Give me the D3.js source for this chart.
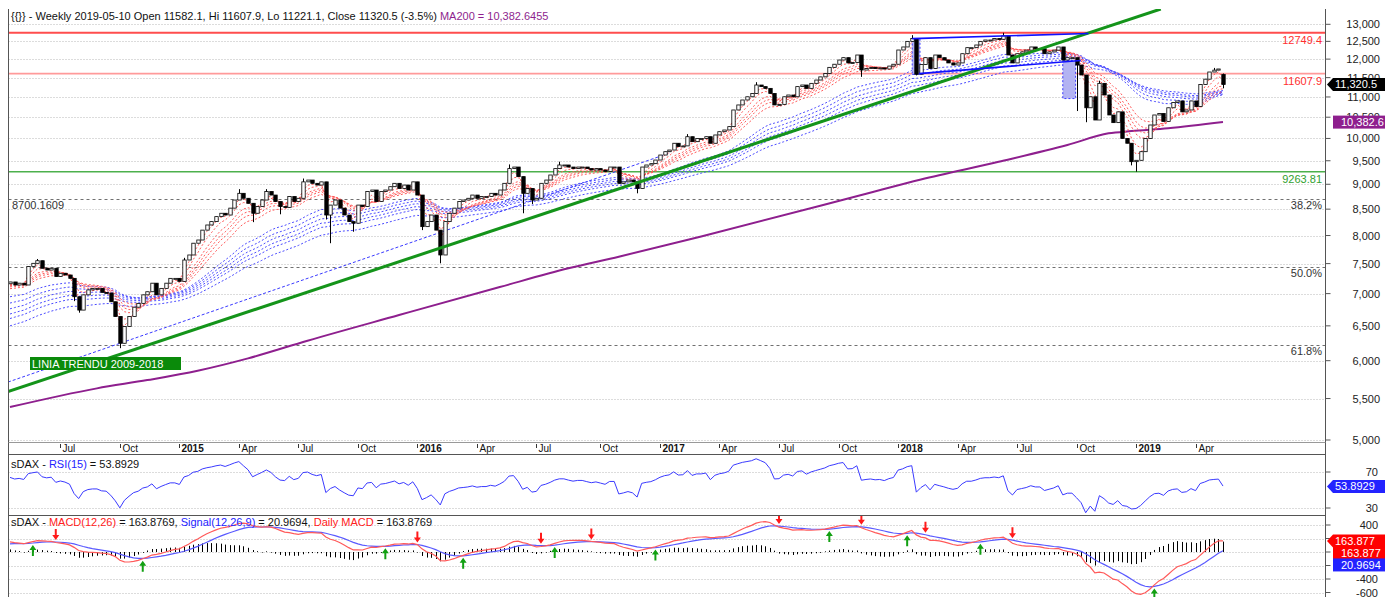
<!DOCTYPE html>
<html>
<head>
<meta charset="utf-8">
<script src="https://cdn.jsdelivr.net/npm/d3@7"></script>
<style>
body { margin: 0; background: #fff; }
svg text { font-family: "Liberation Sans", Arial, sans-serif; }
</style>
</head>
<body>
<svg id="chart" width="1385" height="597"></svg>
<script>
// weekly sDAX closes (first bar = week of 2014-04-11)
const startDate = new Date(2014, 3, 11);
const firstOpen = 7160;
const closes = [
  7190, 7140, 7170, 7140, 7450, 7505, 7550, 7420, 7390, 7420,
  7280, 7335, 7306, 7250, 6950, 6740, 6980, 7060, 7085, 7085,
  7020, 7010, 6870, 6640, 6245, 6490, 6640, 6785, 6845, 6980,
  7030, 7170, 6980, 7085, 7170, 7250, 7250, 7200, 7562, 7650,
  7860, 7918, 8100, 8196, 8260, 8355, 8420, 8386, 8520, 8680,
  8815, 8715, 8615, 8420, 8550, 8680, 8850, 8780, 8650, 8550,
  8535, 8750, 8650, 8715, 9050, 9088, 9020, 8984, 9050, 8386,
  8580, 8680, 8520, 8386, 8260, 8230, 8580, 8550, 8850, 8882,
  8650, 8850, 8882, 8950, 9020, 8915, 8984, 8882, 9050, 8780,
  8165, 8260, 8386, 8100, 7650, 8260, 8420, 8520, 8650, 8680,
  8715, 8780, 8715, 8750, 8750, 8815, 8780, 8882, 9020, 9330,
  9364, 9160, 8815, 8915, 8680, 8715, 9020, 9088, 9194, 9330,
  9408, 9408, 9364, 9330, 9364, 9364, 9330, 9300, 9330, 9300,
  9270, 9364, 9364, 9020, 9050, 9088, 9050, 8915, 9364, 9408,
  9437, 9516, 9626, 9700, 9737, 9890, 9815, 9830, 10040, 9926,
  10000, 10000, 10040, 9890, 10080, 10156, 10196, 10275, 10676, 10800,
  10924, 11005, 11090, 11307, 11265, 11220, 11090, 10800, 10815, 11005,
  11050, 11005, 11265, 11307, 11220, 11350, 11437, 11520, 11608, 11775,
  11860, 11975, 12040, 11895, 11910, 12114, 11703, 11745, 11770, 11745,
  11760, 11730, 11810, 11860, 12254, 12340, 12500, 12580, 11590, 11850,
  12040, 11745, 12114, 12040, 11975, 11895, 11838, 11895, 12150, 12320,
  12320, 12396, 12500, 12539, 12539, 12580, 12560, 12660, 12114, 11895,
  12150, 12200, 12250, 12340, 12290, 12290, 12150, 12200, 12250, 12340,
  11975, 12040, 12040, 11838, 11570, 10730, 11005, 10433, 11350, 11050,
  10554, 10370, 10630, 10000, 9890, 9480, 9510, 9700, 10000, 10314,
  10554, 10590, 10400, 10730, 10860, 10900, 10630, 10676, 10900, 10760,
  11320, 11460, 11650, 11700, 11731, 11320.5
];
// opens that differ from the previous close
const openGaps = [[265, 11582.1]];
// wick extremes [week index, value]
const highWicks = [[6, 7580], [38, 7600], [50, 8900], [56, 8900], [64, 9120], [109, 9420], [120, 9480],
  [148, 10100], [163, 11380], [197, 12680], [217, 12749.4], [238, 11420], [263, 11760], [265, 11607.9]];
const lowWicks = [[14, 6880], [15, 6700], [24, 6175], [53, 8250], [59, 8400], [69, 8300], [70, 7860],
  [75, 8070], [90, 8100], [94, 7505], [112, 8420], [114, 8600], [137, 8815], [186, 11520],
  [198, 11560], [233, 10650], [235, 10380], [245, 9400], [246, 9263.81], [265, 11221.1]];

// MA200 [week index, value]
const ma200Points = [[0, 5393], [19, 5630], [30, 5738], [41, 5863], [52, 6032], [65, 6282], [85, 6664],
  [107, 7107], [122, 7419], [133, 7620], [151, 7983], [186, 8780], [199, 9099], [216, 9478],
  [231, 9850], [240, 10118], [245, 10170], [253, 10235], [265, 10382.6455]];

// ribbon periods and their values at the first bar
const shortPeriods = [3, 5, 8, 10, 12, 15];
const shortSeeds = [7180, 7170, 7150, 7130, 7110, 7080];
const longPeriods = [30, 35, 40, 45, 50, 60];
const longSeeds = [6950, 6850, 6760, 6680, 6610, 6500];

// horizontal levels
const levelValues = [12749.4, 11607.9, 9263.81];
const levelLabels = ["12749.4", "11607.9", "9263.81"];
const fibValues = [8700.1609, 7441, 6220];
const fibLabels = ["38.2%", "50.0%", "61.8%"];

// drawn lines [week index, value]
const trendLine = [[-0.44, 5590], [251.4, 13465]];
const channelLine = [[-0.44, 5712], [144.1, 9671]];
const triangleTop = [[197.1, 12580], [235.6, 12726]];
const triangleBottom = [[198.6, 11606], [233.9, 11963]];
const boxLeft = [[197.1, 12580], [198.8, 11590]];
const boxRight = [[230, 11960], [232.8, 10960]];

// indicator seeds and last values
const rsiPeriod = 15, rsiSeedGain = 80, rsiSeedLoss = 45;
const macdFast = 12, macdSlow = 26, macdSig = 9;
const macdSeedFast = 7130, macdSeedSlow = 6980, macdSeedSignal = 120;
const rsiLast = 53.8929, macdLast = 163.8769, signalLast = 20.9694, ma200Last = 10382.6455;
const sellArrows = [10, 89, 116, 127, 168, 186, 200, 219];
const buyArrows = [5, 29, 82, 99, 119, 141, 179, 196, 212, 250];

const mainTicks = d3.range(5000, 13001, 500);
const rsiTicks = [70, 30];
const macdTicks = [400, 200, 0, -200, -400, -600];
const macdLabels = [400, -400, -600];

// ---------- derived series ----------
const n = closes.length;
const opens = closes.map((c, i) => i == 0 ? firstOpen : closes[i - 1]);
openGaps.forEach(d => opens[d[0]] = d[1]);
const highs = closes.map((c, i) => Math.max(c, opens[i]));
const lows = closes.map((c, i) => Math.min(c, opens[i]));
highWicks.forEach(d => highs[d[0]] = Math.max(highs[d[0]], d[1]));
lowWicks.forEach(d => lows[d[0]] = Math.min(lows[d[0]], d[1]));
const dates = closes.map((c, i) => d3.timeDay.offset(startDate, 7 * i));

function ema(values, period, seed) {
  const a = 2 / (period + 1);
  let e = seed;
  return values.map((v, i) => {
    if (i > 0) e = e + a * (v - e);
    return e;
  });
}

function rsi(values, period, g0, l0) {
  let ag = g0, al = l0;
  return values.map((v, i) => {
    if (i > 0) {
      const ch = v - values[i - 1];
      ag = (ag * (period - 1) + Math.max(ch, 0)) / period;
      al = (al * (period - 1) + Math.max(-ch, 0)) / period;
    }
    return 100 - 100 / (1 + ag / al);
  });
}

const shortEmas = shortPeriods.map((p, k) => ema(closes, p, shortSeeds[k]));
const longEmas = longPeriods.map((p, k) => ema(closes, p, longSeeds[k]));
const rsiVals = rsi(closes, rsiPeriod, rsiSeedGain, rsiSeedLoss);
const eFast = ema(closes, macdFast, macdSeedFast);
const eSlow = ema(closes, macdSlow, macdSeedSlow);
const macd = eFast.map((v, i) => v - eSlow[i]);
const signal = ema(macd, macdSig, macdSeedSignal);

// ---------- layout ----------
const svg = d3.select("#chart");
const plotL = 8.5, plotR = 1325.5;
const mainTop = 9, mainBot = 442;
const rsiTop = 455, rsiBot = 515;
const macdTop = 516, macdBot = 597;
const labelEnd = 1380;

const x = d3.scaleLinear().domain([0, n - 1]).range([10, 1223]);
const step = x(1) - x(0);
const y = d3.scaleLog().domain([5000, 13000]).range([440, 24.3]);
const yr = d3.scaleLinear().domain([30, 70]).range([508, 472]);
const ym = d3.scaleLinear().domain([-400, 400]).range([579, 525]);

const defs = svg.append("defs");
defs.append("clipPath").attr("id", "clipMain").append("rect")
  .attr("x", plotL).attr("y", mainTop).attr("width", plotR - plotL).attr("height", mainBot - mainTop);
defs.append("clipPath").attr("id", "clipRsi").append("rect")
  .attr("x", plotL).attr("y", rsiTop).attr("width", plotR - plotL).attr("height", rsiBot - rsiTop);
defs.append("clipPath").attr("id", "clipMacd").append("rect")
  .attr("x", plotL).attr("y", macdTop).attr("width", plotR - plotL).attr("height", macdBot - macdTop);

const gMain = svg.append("g").attr("clip-path", "url(#clipMain)");
const gRsi = svg.append("g").attr("clip-path", "url(#clipRsi)");
const gMacd = svg.append("g").attr("clip-path", "url(#clipMacd)");

// grids
gMain.selectAll(".grid").data(mainTicks).join("line")
  .attr("x1", plotL).attr("x2", plotR)
  .attr("y1", d => Math.round(y(d)) + 0.5).attr("y2", d => Math.round(y(d)) + 0.5)
  .attr("stroke", "#b8b8b8").attr("stroke-dasharray", "1,2");
gRsi.selectAll(".grid").data(rsiTicks).join("line")
  .attr("x1", plotL).attr("x2", plotR)
  .attr("y1", d => Math.round(yr(d)) + 0.5).attr("y2", d => Math.round(yr(d)) + 0.5)
  .attr("stroke", "#b8b8b8").attr("stroke-dasharray", "1,2");
gMacd.selectAll(".grid").data(macdTicks).join("line")
  .attr("x1", plotL).attr("x2", plotR)
  .attr("y1", d => Math.round(ym(d)) + 0.5).attr("y2", d => Math.round(ym(d)) + 0.5)
  .attr("stroke", "#b8b8b8").attr("stroke-dasharray", "1,2");

// fibonacci levels
gMain.selectAll(".fib").data(fibValues).join("line")
  .attr("x1", plotL).attr("x2", plotR)
  .attr("y1", d => Math.round(y(d)) + 0.5).attr("y2", d => Math.round(y(d)) + 0.5)
  .attr("stroke", "#707070").attr("stroke-width", 1.2).attr("stroke-dasharray", "3,3");
svg.selectAll(".fibLabel").data(fibValues).join("text")
  .attr("x", 1322).attr("y", d => y(d) + 10).attr("text-anchor", "end")
  .attr("font-size", 11).attr("fill", "#333").text((d, i) => fibLabels[i]);
svg.append("text").attr("x", 12).attr("y", y(fibValues[0]) + 10)
  .attr("font-size", 11).attr("fill", "#333").text(fibValues[0].toFixed(4));

// horizontal levels
const levelColors = ["#ff4d4d", "#ff9a9a", "#4cb04c"];
const levelText = ["#ff3030", "#ff3030", "#30a030"];
const levelWidth = [2, 1.6, 1.6];
gMain.selectAll(".lvl").data(levelValues).join("line")
  .attr("x1", plotL).attr("x2", plotR)
  .attr("y1", d => y(d)).attr("y2", d => y(d))
  .attr("stroke", (d, i) => levelColors[i]).attr("stroke-width", (d, i) => levelWidth[i]);
svg.selectAll(".lvlLabel").data(levelValues).join("text")
  .attr("x", 1322).attr("y", d => y(d) + 11).attr("text-anchor", "end")
  .attr("font-size", 11).attr("fill", (d, i) => levelText[i]).text((d, i) => levelLabels[i]);

// MA200
gMain.append("path").datum(ma200Points)
  .attr("d", d3.line().x(d => x(d[0])).y(d => y(d[1])).curve(d3.curveMonotoneX))
  .attr("fill", "none").attr("stroke", "#8e1f8e").attr("stroke-width", 2);

// ribbons
const ribbonLine = d3.line().x((d, i) => x(i)).y(d => y(d));
longEmas.forEach(s => gMain.append("path").datum(s).attr("d", ribbonLine)
  .attr("fill", "none").attr("stroke", "#4a4aff").attr("stroke-width", 1).attr("stroke-dasharray", "2,2"));
shortEmas.forEach(s => gMain.append("path").datum(s).attr("d", ribbonLine)
  .attr("fill", "none").attr("stroke", "#ff5a5a").attr("stroke-width", 1).attr("stroke-dasharray", "2,2"));

// channel line
const segLine = d3.line().x(d => x(d[0])).y(d => y(d[1]));
gMain.append("path").datum(channelLine).attr("d", segLine)
  .attr("fill", "none").attr("stroke", "#3a3aff").attr("stroke-width", 1).attr("stroke-dasharray", "3,2");

// triangle boxes
[boxLeft, boxRight].forEach(b => {
  gMain.append("rect")
    .attr("x", x(b[0][0])).attr("y", y(b[0][1]))
    .attr("width", x(b[1][0]) - x(b[0][0])).attr("height", y(b[1][1]) - y(b[0][1]))
    .attr("fill", "#b3b3f2").attr("stroke", "#3a3aff").attr("stroke-dasharray", "2,2");
});

// candles
const candles = gMain.append("g");
const bw = 3.4;
candles.selectAll("line").data(closes).join("line")
  .attr("x1", (d, i) => Math.round(x(i)) + 0.5).attr("x2", (d, i) => Math.round(x(i)) + 0.5)
  .attr("y1", (d, i) => y(highs[i])).attr("y2", (d, i) => y(lows[i]))
  .attr("stroke", "#000").attr("stroke-width", 1);
candles.selectAll("rect").data(closes).join("rect")
  .attr("x", (d, i) => Math.round(x(i)) + 0.5 - bw / 2)
  .attr("y", (d, i) => y(Math.max(d, opens[i])))
  .attr("width", bw)
  .attr("height", (d, i) => Math.max(1, y(Math.min(d, opens[i])) - y(Math.max(d, opens[i]))))
  .attr("fill", (d, i) => d >= opens[i] ? "#fff" : "#000")
  .attr("stroke", "#000").attr("stroke-width", 0.8);

// trend line and triangle
gMain.append("path").datum(trendLine).attr("d", segLine)
  .attr("fill", "none").attr("stroke", "#14941a").attr("stroke-width", 3);
[triangleTop, triangleBottom].forEach(t => gMain.append("path").datum(t).attr("d", segLine)
  .attr("fill", "none").attr("stroke", "#1010ff").attr("stroke-width", 1.6));

const tl = svg.append("g");
tl.append("rect").attr("x", 30).attr("y", 357).attr("width", 151).attr("height", 13).attr("fill", "#0a8a0a");
tl.append("text").attr("x", 32).attr("y", 367.5).attr("font-size", 11).attr("fill", "#fff")
  .text("LINIA TRENDU 2009-2018");

// RSI
gRsi.append("path").datum(rsiVals)
  .attr("d", d3.line().x((d, i) => x(i)).y(d => yr(d)))
  .attr("fill", "none").attr("stroke", "#3a3aff").attr("stroke-width", 1);

// MACD
const hist = macd.map((v, i) => v - signal[i]);
gMacd.selectAll(".hist").data(hist).join("line")
  .attr("x1", (d, i) => Math.round(x(i)) + 0.5).attr("x2", (d, i) => Math.round(x(i)) + 0.5)
  .attr("y1", ym(0)).attr("y2", d => ym(d) + (d >= 0 ? -0.5 : 0.5))
  .attr("stroke", "#000").attr("stroke-width", 1);
gMacd.append("path").datum(signal)
  .attr("d", d3.line().x((d, i) => x(i)).y(d => ym(d)))
  .attr("fill", "none").attr("stroke", "#5a5aff").attr("stroke-width", 1.2);
gMacd.append("path").datum(macd)
  .attr("d", d3.line().x((d, i) => x(i)).y(d => ym(d)))
  .attr("fill", "none").attr("stroke", "#ff5a5a").attr("stroke-width", 1.2);

function arrow(g, cx, tipY, dir, color) {
  // dir -1 = pointing down (tip below), 1 = pointing up
  const s = dir;
  const p = d3.path();
  p.moveTo(cx, tipY);
  p.lineTo(cx - 3.5, tipY + s * 5);
  p.lineTo(cx - 1, tipY + s * 5);
  p.lineTo(cx - 1, tipY + s * 11);
  p.lineTo(cx + 1, tipY + s * 11);
  p.lineTo(cx + 1, tipY + s * 5);
  p.lineTo(cx + 3.5, tipY + s * 5);
  p.closePath();
  g.append("path").attr("d", p.toString()).attr("fill", color);
}
sellArrows.forEach(i => arrow(gMacd, x(i), Math.min(ym(macd[i]), ym(signal[i])) - 2, -1, "#ff1a1a"));
buyArrows.forEach(i => arrow(gMacd, x(i), Math.max(ym(macd[i]), ym(signal[i])) + 2, 1, "#12a012"));

// frames
const frame = svg.append("g").attr("stroke", "#555").attr("fill", "none");
frame.append("line").attr("x1", plotL).attr("x2", plotL).attr("y1", mainTop).attr("y2", 597);
frame.append("line").attr("x1", plotR).attr("x2", plotR).attr("y1", mainTop).attr("y2", 597);
frame.append("line").attr("x1", plotL).attr("x2", plotR).attr("y1", mainBot + 0.5).attr("y2", mainBot + 0.5).attr("stroke", "#999");
frame.append("line").attr("x1", plotL).attr("x2", plotR).attr("y1", 454.5).attr("y2", 454.5);
frame.append("line").attr("x1", plotL).attr("x2", plotR).attr("y1", 515.5).attr("y2", 515.5);

// date axis: quarter marks sit at the boundary before the first bar of the month
const monthFmt = d3.timeFormat("%b");
const dateTicks = d3.range(1, n).filter(i => dates[i].getMonth() !== dates[i - 1].getMonth() && dates[i].getMonth() % 3 === 0);
const da = svg.append("g");
dateTicks.forEach(i => {
  const d = dates[i];
  const xi = Math.round(x(i) - step) + 0.5;
  da.append("line").attr("x1", xi).attr("x2", xi).attr("y1", 444).attr("y2", 448).attr("stroke", "#333");
  da.append("text").attr("x", xi + 2).attr("y", 452).attr("font-size", 10)
    .attr("font-weight", d.getMonth() === 0 ? "bold" : "normal").attr("fill", "#111")
    .text(d.getMonth() === 0 ? d.getFullYear() : monthFmt(d));
});

// right axes
const ax = svg.append("g").attr("font-size", 11).attr("fill", "#222");
mainTicks.forEach(v => {
  ax.append("line").attr("x1", plotR).attr("x2", plotR + 5).attr("y1", y(v)).attr("y2", y(v)).attr("stroke", "#555");
  ax.append("text").attr("x", labelEnd).attr("y", y(v) + 4).attr("text-anchor", "end").text(d3.format(",")(v));
});
rsiTicks.forEach(v => {
  ax.append("line").attr("x1", plotR).attr("x2", plotR + 5).attr("y1", yr(v)).attr("y2", yr(v)).attr("stroke", "#555");
  ax.append("text").attr("x", labelEnd - 2).attr("y", yr(v) + 4).attr("text-anchor", "end").text(v);
});
macdTicks.forEach(v => {
  ax.append("line").attr("x1", plotR).attr("x2", plotR + 5).attr("y1", ym(v)).attr("y2", ym(v)).attr("stroke", "#555");
});
macdLabels.forEach(v => {
  ax.append("text").attr("x", labelEnd - 2).attr("y", ym(v) + 4).attr("text-anchor", "end").text(v);
});

// value tags
function tag(yc, text, fill, pointer) {
  const g = svg.append("g");
  const x0 = pointer ? 1327 : 1333;
  if (pointer) {
    g.append("path").attr("d", `M${x0},${yc} L${x0 + 6},${yc - 6.5} L1385,${yc - 6.5} L1385,${yc + 6.5} L${x0 + 6},${yc + 6.5} Z`).attr("fill", fill);
  } else {
    g.append("rect").attr("x", x0).attr("y", yc - 6.5).attr("width", 1385 - x0).attr("height", 13).attr("fill", fill);
  }
  g.append("text").attr("x", x0 + 8).attr("y", yc + 4).attr("font-size", 11).attr("fill", "#fff").text(text);
}
tag(y(closes[n - 1]), d3.format(",.1f")(closes[n - 1]), "#000", true);
tag(y(ma200Last), d3.format(",.1f")(ma200Last), "#8e1f8e", false);
tag(yr(rsiLast), rsiLast.toFixed(4), "#2323ff", true);
tag(ym(macdLast), macdLast.toFixed(3), "#ff0000", true);
tag(ym(macdLast) + 12, macdLast.toFixed(3), "#ff0000", false);
tag(ym(macdLast) + 24, signalLast.toFixed(4), "#2323ff", false);

// headers
const last = n - 1;
const pct = (closes[last] / closes[last - 1] - 1) * 100;
const hdr = svg.append("text").attr("x", 11).attr("y", 20).attr("font-size", 11).attr("fill", "#111");
hdr.append("tspan").text(`{{}} - Weekly ${d3.timeFormat("%Y-%m-%d")(dates[last])} Open ${opens[last]}, Hi ${highs[last]}, Lo ${lows[last]}, Close ${closes[last]} (${pct.toFixed(1)}%) `);
hdr.append("tspan").attr("fill", "#8e1f8e").text(`MA200 = ${d3.format(",.4f")(ma200Last)}`);

const rh = svg.append("text").attr("x", 11).attr("y", 468).attr("font-size", 11).attr("fill", "#111");
rh.append("tspan").text("sDAX - ");
rh.append("tspan").attr("fill", "#2323ff").text(`RSI(${rsiPeriod})`);
rh.append("tspan").text(` = ${rsiLast}`);

const mh = svg.append("text").attr("x", 11).attr("y", 526).attr("font-size", 11).attr("fill", "#111");
mh.append("tspan").text("sDAX - ");
mh.append("tspan").attr("fill", "#ff2020").text(`MACD(${macdFast},${macdSlow})`);
mh.append("tspan").text(` = ${macdLast}, `);
mh.append("tspan").attr("fill", "#2323ff").text(`Signal(${macdFast},${macdSlow},${macdSig})`);
mh.append("tspan").text(` = ${signalLast}, `);
mh.append("tspan").attr("fill", "#ff2020").text("Daily MACD");
mh.append("tspan").text(` = ${macdLast}`);
</script>
</body>
</html>
